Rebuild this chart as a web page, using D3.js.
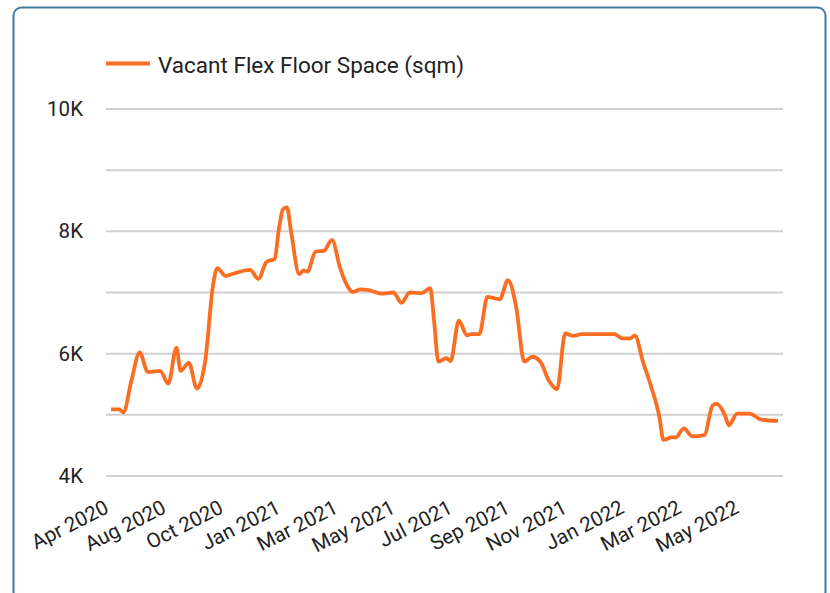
<!DOCTYPE html>
<html>
<head>
<meta charset="utf-8">
<script src="https://cdn.jsdelivr.net/npm/d3@7"></script>
<style>
  html, body { margin: 0; padding: 0; background: #fff; }
  svg { display: block; }
</style>
</head>
<body>
<div id="chart"></div>
<script>
// ---- Data ----
// Category axis: one slot per observation, a label shown every 14th slot.
const tickLabels = ['Apr 2020', 'Aug 2020', 'Oct 2020', 'Jan 2021', 'Mar 2021', 'May 2021',
  'Jul 2021', 'Sep 2021', 'Nov 2021', 'Jan 2022', 'Mar 2022', 'May 2022'];
const tickEvery = 14;
const lastSlot = 163;

// slot index of each reading, and vacant flex floor space (sqm) at that slot
const obsSlot = [0, 2, 3, 5, 7, 9, 12, 14, 16, 17, 19, 21, 23, 25, 26, 28, 30, 34, 36, 38,
  40, 41, 42, 43, 44, 46, 47, 48, 50, 52, 54, 56, 58, 59, 61, 63, 66, 69, 71, 73,
  76, 78, 79, 80, 82, 83, 85, 87, 88, 90, 92, 95, 97, 99, 101, 103, 105, 107, 109, 111,
  113, 115, 123, 125, 127, 128, 130, 132, 134, 135, 137, 138, 140, 142, 145, 147, 148, 150, 151, 153,
  156, 159, 163];
const vacantSqm = [5090, 5090, 5040, 5560, 6020, 5700, 5720, 5510, 6100, 5720, 5850, 5430, 5870, 7150, 7400, 7270, 7310, 7370, 7220, 7500,
  7550, 8020, 8360, 8390, 8000, 7300, 7360, 7340, 7670, 7680, 7860, 7400, 7080, 7010, 7050, 7040, 6980, 7000, 6830, 7000,
  6990, 7070, 6500, 5870, 5925, 5880, 6540, 6300, 6320, 6320, 6930, 6890, 7200, 6770, 5870, 5950, 5860, 5560, 5420, 6330,
  6290, 6320, 6320, 6250, 6250, 6300, 5870, 5460, 4970, 4590, 4630, 4630, 4780, 4650, 4670, 5150, 5180, 5000, 4830, 5020,
  5020, 4920, 4900];

const yTicks = [4000, 5000, 6000, 7000, 8000, 9000, 10000];
const yLabelled = [4000, 6000, 8000, 10000];
const seriesName = 'Vacant Flex Floor Space (sqm)';

// ---- Layout ----
const W = 830, H = 593;
const ORANGE = '#fb6d22';
const FONT = 'Roboto, "Noto Sans", sans-serif';

const svg = d3.select('#chart').append('svg')
  .attr('width', W).attr('height', H);

svg.append('rect')
  .attr('x', 13.5).attr('y', 7.5)
  .attr('width', 812).attr('height', 592)
  .attr('rx', 8)
  .attr('fill', '#fff')
  .attr('stroke', '#41799f')
  .attr('stroke-width', 2);

const x = d3.scaleLinear().domain([0, lastSlot]).range([111, 778]);
const y = d3.scaleLinear().domain([4000, 10000]).range([476, 109]);
const gridLeft = 106, gridRight = 783;

// gridlines
svg.append('g').selectAll('line')
  .data(yTicks).join('line')
  .attr('x1', gridLeft).attr('x2', gridRight)
  .attr('y1', d => y(d)).attr('y2', d => y(d))
  .attr('stroke', '#d0d0d0')
  .attr('stroke-width', 2);

// y labels
svg.append('g').selectAll('text')
  .data(yLabelled).join('text')
  .attr('x', 83)
  .attr('y', d => y(d))
  .attr('text-anchor', 'end')
  .attr('dominant-baseline', 'central')
  .attr('font-family', FONT)
  .attr('font-size', 20.5)
  .attr('fill', '#222')
  .text(d => d3.format('~s')(d).replace('k', 'K'));

// x labels, rotated
svg.append('g').selectAll('text')
  .data(tickLabels).join('text')
  .attr('transform', (d, i) => `translate(${x(i * tickEvery) - 1}, 512) rotate(-27)`)
  .attr('text-anchor', 'end')
  .attr('font-family', FONT)
  .attr('font-size', 20.5)
  .attr('fill', '#222')
  .text(d => d);

// the series
const pts = obsSlot.map((s, i) => ({ s, v: vacantSqm[i] }));
const line = d3.line()
  .x(d => x(d.s))
  .y(d => y(d.v))
  .curve(d3.curveMonotoneX);

svg.append('path')
  .datum(pts)
  .attr('fill', 'none')
  .attr('stroke', ORANGE)
  .attr('stroke-width', 3.8)
  .attr('stroke-linejoin', 'round')
  .attr('d', line);

// legend
svg.append('line')
  .attr('x1', 106).attr('x2', 150)
  .attr('y1', 63.5).attr('y2', 63.5)
  .attr('stroke', ORANGE)
  .attr('stroke-width', 4);
svg.append('text')
  .attr('x', 158).attr('y', 64.5)
  .attr('dominant-baseline', 'central')
  .attr('font-family', FONT)
  .attr('font-size', 22.5)
  .attr('fill', '#222')
  .text(seriesName);
</script>
</body>
</html>
